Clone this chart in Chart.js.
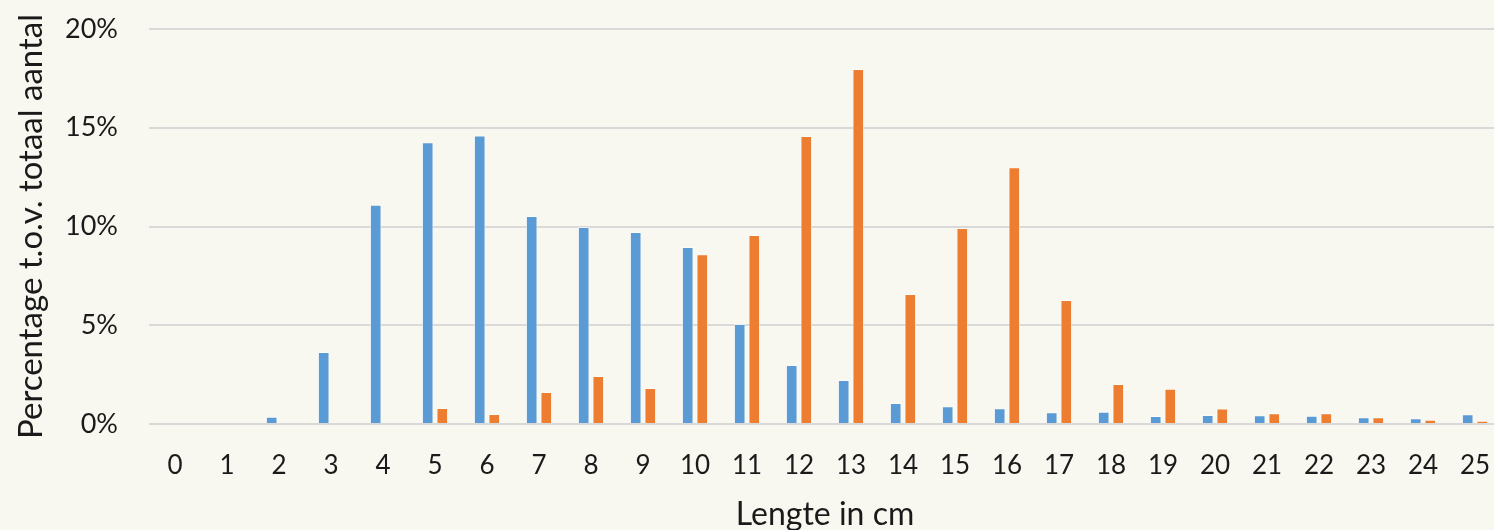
<!DOCTYPE html>
<html>
<head>
<meta charset="utf-8">
<script src="https://cdn.jsdelivr.net/npm/chart.js@4.4.0/dist/chart.umd.min.js"></script>
<style>
  html, body { margin: 0; padding: 0; background: #f8f8f0; overflow: hidden; }
  #wrap { width: 1501px; height: 530px; position: relative; }
</style>
</head>
<body>
<div id="wrap"><canvas id="chart"></canvas></div>
<script>
// lengteklassen (cm)
const lengths = ['0','1','2','3','4','5','6','7','8','9','10','11','12','13','14','15','16','17','18','19','20','21','22','23','24','25'];

// percentages t.o.v. totaal aantal
const blueSeries = [0, 0, 0.37, 3.65, 11.1, 14.26, 14.61, 10.53, 9.97, 9.72, 8.96, 5.06, 2.99, 2.23, 1.06, 0.9, 0.8, 0.59, 0.62, 0.4, 0.46, 0.44, 0.42, 0.34, 0.29, 0.49];
const orangeSeries = [0, 0, 0, 0, 0, 0.81, 0.51, 1.62, 2.43, 1.82, 8.6, 9.57, 14.58, 17.97, 6.58, 9.92, 13.0, 6.28, 2.03, 1.79, 0.79, 0.54, 0.54, 0.34, 0.22, 0.17];

const yTicks = [0, 5, 10, 15, 20];

const fontFamily = 'Lato, "Open Sans", sans-serif';
const textColor = '#1a1a1a';

const ctx = document.getElementById('chart').getContext('2d');
new Chart(ctx, {
    type: 'bar',
    data: {
        labels: lengths,
        datasets: [
            {
                label: 'serie 1',
                data: blueSeries,
                backgroundColor: '#5b9bd5',
                borderColor: 'rgba(255,255,255,0.55)',
                borderWidth: 1,
                categoryPercentage: 0.56,
                barPercentage: 0.8
            },
            {
                label: 'serie 2',
                data: orangeSeries,
                backgroundColor: '#ed7d31',
                borderColor: 'rgba(255,255,255,0.55)',
                borderWidth: 1,
                categoryPercentage: 0.56,
                barPercentage: 0.8
            }
        ]
    },
    options: {
        responsive: true,
        maintainAspectRatio: false,
        animation: false,
        layout: { padding: { top: 29, right: 0, bottom: 0, left: 0 } },
        plugins: {
            legend: { display: false },
            tooltip: { enabled: false }
        },
        scales: {
            x: {
                grid: { display: false },
                border: { display: false },
                ticks: {
                    color: textColor,
                    font: { family: fontFamily, size: 26 },
                    padding: 18,
                    maxRotation: 0,
                    autoSkip: false
                },
                title: {
                    display: true,
                    text: 'Lengte in cm',
                    color: textColor,
                    font: { family: fontFamily, size: 32 },
                    padding: { top: 0, bottom: -4 }
                },
                afterFit: function(scale) {
                    scale.height = 106;
                    scale.paddingLeft = 0;
                    scale.paddingRight = 0;
                }
            },
            y: {
                min: 0,
                max: 20,
                afterBuildTicks: function(scale) {
                    scale.ticks = yTicks.map(v => ({ value: v }));
                },
                grid: {
                    color: '#d9d9d9',
                    lineWidth: 2,
                    drawTicks: false
                },
                border: { display: false },
                ticks: {
                    color: textColor,
                    font: { family: fontFamily, size: 27 },
                    padding: 31,
                    callback: function(v) { return v + '%'; }
                },
                title: {
                    display: true,
                    text: 'Percentage t.o.v. totaal aantal',
                    color: textColor,
                    font: { family: fontFamily, size: 33 },
                    padding: { top: 12, bottom: 0 }
                },
                afterFit: function(scale) {
                    scale.width = 149;
                    scale.paddingTop = 0;
                    scale.paddingBottom = 0;
                }
            }
        }
    }
});
</script>
</body>
</html>
